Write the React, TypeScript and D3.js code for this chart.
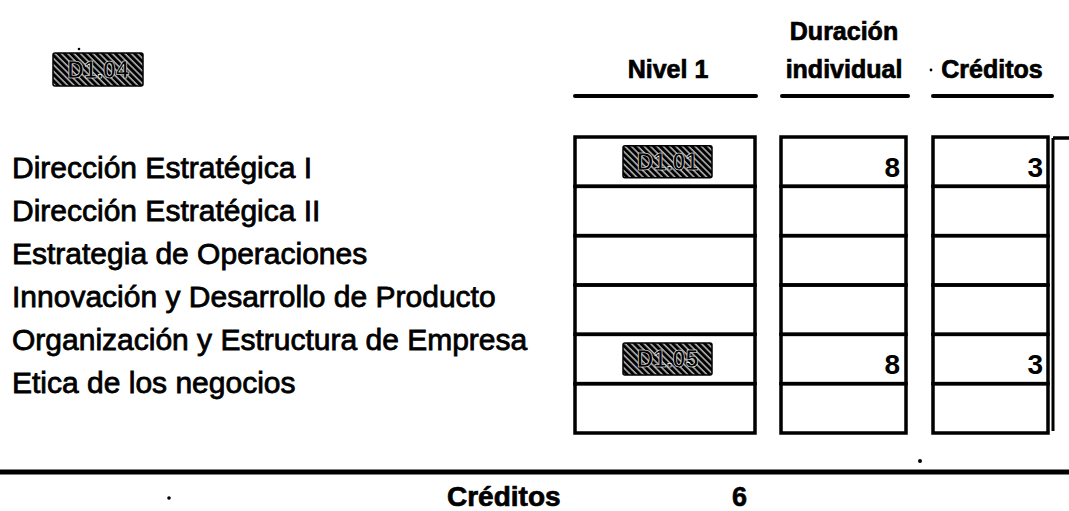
import React from "react";
import * as d3 from "d3";

const rowLabels = [
  "Dirección Estratégica I",
  "Dirección Estratégica II",
  "Estrategia de Operaciones",
  "Innovación y Desarrollo de Producto",
  "Organización y Estructura de Empresa",
  "Etica de los negocios",
];
const nivelCodes: (string | null)[] = ["D1.01", null, null, null, "D1.05", null];
const duracion: (number | null)[] = [8, null, null, null, 8, null];
const creditos: (number | null)[] = [3, null, null, null, 3, null];
const headerCode = "D1.04";
const totalLabel = "Créditos";
const totalValue = 6;
const colHeaders = [
  { key: "nivel", lines: ["Nivel 1"] },
  { key: "duracion", lines: ["Duración", "individual"] },
  { key: "creditos", lines: ["Créditos"] },
];

const W = 1069;
const H = 511;
const FONT = "'Liberation Sans', Arial, Helvetica, sans-serif";

export default function App() {
  const rowBand = d3.scaleBand<number>().domain(d3.range(rowLabels.length)).range([137, 433]).padding(0);
  const labelY = d3.scalePoint<string>().domain(rowLabels).range([178, 393]);
  const colX: Record<string, [number, number]> = {
    nivel: [575, 755],
    duracion: [781, 906],
    creditos: [933, 1048],
  };
  const underX: Record<string, [number, number]> = {
    nivel: [575, 756],
    duracion: [782, 908],
    creditos: [933, 1052],
  };
  const headCx: Record<string, number> = { nivel: 668, duracion: 844, creditos: 992 };
  const lineH = 38;
  const headBase = 78;
  const sw = 3.5;

  const hatch = (x: number, y: number, w: number, h: number, code: string, key: string) => (
    <g key={key}>
      <rect x={x} y={y} width={w} height={h} rx={2} fill="url(#hatch)" stroke="#000" strokeWidth={1.5} />
      <text
        x={x + w / 2}
        y={y + h / 2 + 8}
        textAnchor="middle"
        fontFamily={FONT}
        fontWeight="bold"
        fontSize={23}
        fill="#000"
        stroke="#fff"
        strokeWidth={0.6}
      >
        {code}
      </text>
    </g>
  );

  return (
    <svg
      width={W}
      height={H}
      viewBox={`0 0 ${W} ${H}`}
      style={{ position: "absolute", left: 0, top: 0, background: "#fff" }}
    >
      <defs>
        <pattern id="hatch" width={4.5} height={4.5} patternUnits="userSpaceOnUse" patternTransform="rotate(-45)">
          <rect width={4.5} height={4.5} fill="#000" />
          <line x1={1} y1={0} x2={1} y2={4.5} stroke="#fff" strokeWidth={1.1} />
        </pattern>
      </defs>

      {/* top-left code box */}
      {hatch(53, 53, 90, 33, headerCode, "hc")}

      {/* column headers */}
      {colHeaders.map((c) => {
        const cx = headCx[c.key];
        const n = c.lines.length;
        return (
          <g key={c.key}>
            {c.lines.map((ln, i) => (
              <text
                key={i}
                x={cx}
                y={headBase - (n - 1 - i) * lineH}
                textAnchor="middle"
                fontFamily={FONT}
                fontWeight="bold"
                fontSize={25}
                fill="#000"
                stroke="#000"
                strokeWidth={0.7}
              >
                {ln}
              </text>
            ))}
            <line
              x1={underX[c.key][0]}
              x2={underX[c.key][1]}
              y1={96}
              y2={96}
              stroke="#000"
              strokeWidth={4}
              strokeLinecap="round"
            />
          </g>
        );
      })}
      <circle cx={931} cy={70} r={1.4} fill="#000" />

      {/* row labels */}
      {rowLabels.map((l) => (
        <text
          key={l}
          x={12}
          y={labelY(l)}
          fontFamily={FONT}
          fontSize={30}
          fill="#000"
          stroke="#000"
          strokeWidth={0.8}
        >
          {l}
        </text>
      ))}

      {/* table boxes */}
      {Object.keys(colX).map((k) => {
        const [x0, x1] = colX[k];
        return (
          <g key={k}>
            {d3.range(rowLabels.length).map((i) => (
              <rect
                key={i}
                x={x0}
                y={rowBand(i)!}
                width={x1 - x0}
                height={rowBand.bandwidth()}
                fill="none"
                stroke="#000"
                strokeWidth={sw}
              />
            ))}
          </g>
        );
      })}
      {/* partially visible fourth column */}
      <line x1={1053} x2={1053} y1={138} y2={431} stroke="#000" strokeWidth={3} />
      <line x1={1053} x2={W} y1={138} y2={138} stroke="#000" strokeWidth={sw} />

      {/* nivel codes */}
      {nivelCodes.map((c, i) => {
        if (!c) return null;
        const cx = 667.5;
        const cy = rowBand(i)! + rowBand.bandwidth() / 2;
        return hatch(cx - 44.5, cy - 16, 89, 32, c, "n" + i);
      })}

      {/* values */}
      {duracion.map((v, i) =>
        v == null ? null : (
          <text
            key={"d" + i}
            x={colX.duracion[1] - 6}
            y={rowBand(i)! + 40}
            textAnchor="end"
            fontFamily={FONT}
            fontWeight="bold"
            fontSize={28}
            fill="#000"
          >
            {v}
          </text>
        )
      )}
      {creditos.map((v, i) =>
        v == null ? null : (
          <text
            key={"c" + i}
            x={colX.creditos[1] - 5}
            y={rowBand(i)! + 40}
            textAnchor="end"
            fontFamily={FONT}
            fontWeight="bold"
            fontSize={28}
            fill="#000"
          >
            {v}
          </text>
        )
      )}

      {/* bottom total */}
      <line x1={0} x2={W} y1={472} y2={472} stroke="#000" strokeWidth={5} />
      <text
        x={447}
        y={506}
        fontFamily={FONT}
        fontWeight="bold"
        fontSize={28}
        fill="#000"
        stroke="#000"
        strokeWidth={0.7}
      >
        {totalLabel}
      </text>
      <text
        x={732}
        y={506}
        fontFamily={FONT}
        fontWeight="bold"
        fontSize={27}
        fill="#000"
        stroke="#000"
        strokeWidth={0.6}
      >
        {totalValue}
      </text>

      {/* scan specks */}
      <circle cx={79} cy={49} r={1.3} fill="#000" />
      <circle cx={920} cy={461} r={2} fill="#000" />
      <circle cx={169} cy={498} r={1.8} fill="#000" />
    </svg>
  );
}
